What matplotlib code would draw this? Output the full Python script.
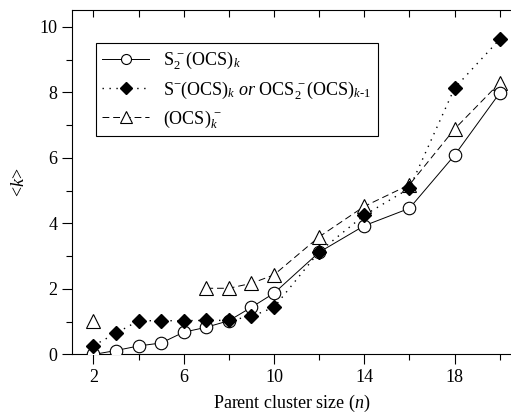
import numpy as np
import matplotlib
matplotlib.use("Agg")
import matplotlib.pyplot as plt
from matplotlib.ticker import MultipleLocator, FixedLocator

plt.rcParams['font.family'] = ['Liberation Serif', 'DejaVu Serif']
plt.rcParams['mathtext.fontset'] = 'custom'
plt.rcParams['mathtext.rm'] = 'Liberation Serif'
plt.rcParams['mathtext.it'] = 'Liberation Serif:italic'
plt.rcParams['mathtext.bf'] = 'Liberation Serif:bold'

n_circ = [2, 3, 4, 5, 6, 7, 8, 9, 10, 12, 14, 16, 18, 20]
k_circ = [0.0, 0.12, 0.26, 0.35, 0.68, 0.83, 1.03, 1.44, 1.87, 3.12, 3.93, 4.46, 6.08, 7.98]

n_diam = [2, 3, 4, 5, 6, 7, 8, 9, 10, 12, 14, 16, 18, 20]
k_diam = [0.27, 0.65, 1.03, 1.03, 1.03, 1.04, 1.04, 1.16, 1.44, 3.14, 4.25, 5.07, 8.13, 9.62]

n_tri = [2, 3, 4, 5, 6, 7, 8, 9, 10, 12, 14, 16, 18, 20]
k_tri = [1.02, np.nan, np.nan, np.nan, np.nan, 2.02, 2.02, 2.17, 2.43, 3.59, 4.52, 5.18, 6.88, 8.29]

labels = [r'S$_2^{\,-}$(OCS)$_k$',
          r'S$^{-}$(OCS)$_k$ $\it{or}$ OCS$_2^{\,-}$(OCS)$_{k\text{-}1}$',
          r'(OCS)$_k^{\,-}$']

fig = plt.figure(figsize=(5.11, 4.17), dpi=100)
ax = fig.add_axes([0.141, 0.150, 0.859, 0.825])

ax.plot(n_circ, k_circ, '-', color='black', lw=0.7, marker='o', ms=9,
        mfc='white', mec='black', mew=0.8, label=labels[0], zorder=3)
ax.plot(n_diam, k_diam, ':', color='black', lw=1.0, dashes=(1, 4), marker='D', ms=7.5,
        mfc='black', mec='black', label=labels[1], zorder=3)
ax.plot(n_tri, k_tri, '--', color='black', lw=0.7, dashes=(7, 4), marker='^', ms=10,
        mfc='white', mec='black', mew=0.8, label=labels[2], zorder=2)

ax.set_xlim(1.05, 20.5)
ax.set_ylim(0, 10.5)

ax.xaxis.set_major_locator(FixedLocator([2, 6, 10, 14, 18]))
ax.xaxis.set_minor_locator(FixedLocator([4, 8, 12, 16, 20]))
ax.yaxis.set_major_locator(MultipleLocator(2))
ax.yaxis.set_minor_locator(MultipleLocator(1))
ax.tick_params(axis='both', which='major', direction='out', length=7, width=0.8,
               labelsize=13, top=False, right=False)
ax.tick_params(axis='both', which='minor', direction='out', length=4, width=0.8,
               top=False, right=False)
ax.spines['right'].set_visible(False)
for s in ['left', 'bottom', 'top']:
    ax.spines[s].set_linewidth(0.8)

# top ticks pointing inward at every 2 units
sec = ax.secondary_xaxis('top')
sec.xaxis.set_major_locator(MultipleLocator(2))
sec.tick_params(direction='in', length=5, width=0.8, labeltop=False)
sec.spines['top'].set_visible(False)

ax.set_xlabel(r'Parent cluster size ($n$)', fontsize=13, labelpad=5)
ax.set_ylabel(r'<$k$>', fontsize=13, labelpad=8)

leg = ax.legend(loc='upper left', bbox_to_anchor=(0.054, 0.905), fontsize=13,
                frameon=True, fancybox=False, edgecolor='black', framealpha=1,
                handlelength=2.6, markerscale=0.8, borderpad=0.35,
                labelspacing=0.4, handletextpad=0.8, borderaxespad=0)
leg.get_frame().set_linewidth(0.8)

fig.savefig('out.png', dpi=100)
